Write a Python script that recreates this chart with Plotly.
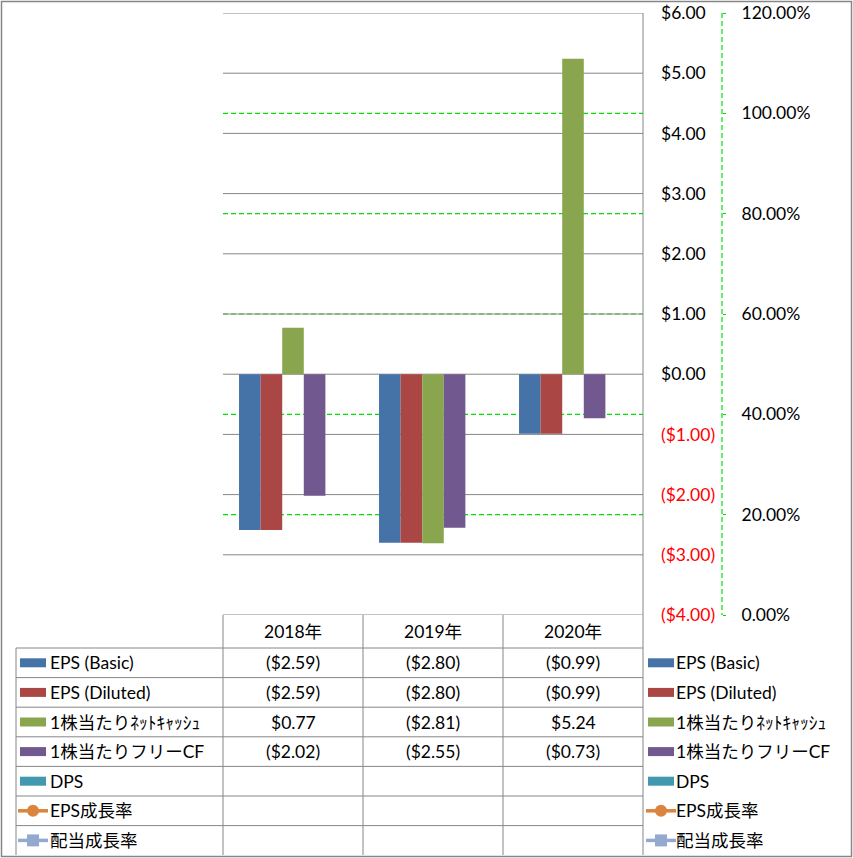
import plotly.graph_objects as go

# ---------------- data ----------------
years = ["2018年", "2019年", "2020年"]
eps_basic = [-2.59, -2.80, -0.99]
eps_diluted = [-2.59, -2.80, -0.99]
net_cash_ps = [0.77, -2.81, 5.24]
fcf_ps = [-2.02, -2.55, -0.73]
dps = [None, None, None]
eps_growth = [None, None, None]
div_growth = [None, None, None]

series_names = ["EPS (Basic)", "EPS (Diluted)", "1株当たりﾈｯﾄｷｬｯｼｭ",
                "1株当たりフリーCF", "DPS", "EPS成長率", "配当成長率"]
y1_ticks = [-4, -3, -2, -1, 0, 1, 2, 3, 4, 5, 6]
y2_ticks = [0.0, 0.2, 0.4, 0.6, 0.8, 1.0, 1.2]

# ---------------- style ----------------
W, H = 853, 858
FONT = "Lato, 'Noto Sans CJK JP', sans-serif"
FS = 17.5
GRID = "#868686"
GREEN = "#00E000"
DASH = "5px,3px"
colors = ["#4572A7", "#AA4643", "#89A54E", "#71588F", "#4198AF", "#DB843D", "#93A9CF"]

def px(x):
    return x / W

def py(y):
    return 1 - y / H

PL, PR, PT, PB = 223, 643, 13, 615   # plot area in px
TL = 16                               # table left edge
HDR_B = 648                           # header bottom
ROW_H = 29.6
TB = 855

def money(v):
    if v is None:
        return ""
    if v < 0:
        return "(${:.2f})".format(-v)
    return "${:.2f}".format(v)

def money_tick(v):
    if v < 0:
        return '<span style="color:#FF0000">(${:.2f})</span>'.format(-v)
    return "${:.2f}".format(v)

fig = go.Figure()
bar_series = [eps_basic, eps_diluted, net_cash_ps, fcf_ps, dps]
for i, vals in enumerate(bar_series):
    fig.add_trace(go.Bar(x=years, y=vals, name=series_names[i],
                         marker=dict(color=colors[i], line=dict(width=0)),
                         showlegend=False))
for i, vals in zip([5, 6], [eps_growth, div_growth]):
    fig.add_trace(go.Scatter(x=years, y=vals, name=series_names[i], yaxis="y2",
                             mode="lines+markers",
                             line=dict(color=colors[i], width=3),
                             showlegend=False))

shapes = []
annotations = []

def hline(x0, x1, y, color=GRID, width=1, dash=None):
    d = dict(type="line", xref="paper", yref="paper", x0=px(x0), x1=px(x1),
             y0=py(y), y1=py(y), line=dict(color=color, width=width))
    if dash:
        d["line"]["dash"] = dash
    shapes.append(d)

def vline(x, y0, y1, color=GRID, width=1, dash=None):
    d = dict(type="line", xref="paper", yref="paper", x0=px(x), x1=px(x),
             y0=py(y0), y1=py(y1), line=dict(color=color, width=width))
    if dash:
        d["line"]["dash"] = dash
    shapes.append(d)

# secondary gridlines (green dashed, inner ones), then primary gridlines (grey) on top
for v in y2_ticks[1:-1]:
    shapes.append(dict(type="line", layer="below", xref="x domain", yref="y2",
                       x0=0, x1=1, y0=v, y1=v,
                       line=dict(color=GREEN, width=1.2, dash=DASH)))
for v in y1_ticks:
    shapes.append(dict(type="line", layer="below", xref="x domain", yref="y",
                       x0=0, x1=1, y0=v, y1=v, line=dict(color=GRID, width=1)))

# outer border
shapes.append(dict(type="rect", xref="paper", yref="paper",
                   x0=px(1.5), x1=px(851.5), y0=py(856.5), y1=py(1.5),
                   line=dict(color=GRID, width=1.5)))

# secondary axis line (dashed green)
vline(722, PT, PB, color=GREEN, width=1.2, dash=DASH)

# table structure
vline(PR, PT, TB)
for xc in [PL, 363, 503]:
    vline(xc, PB, TB)
vline(TL, HDR_B, TB)
for r in range(len(series_names)):
    hline(TL, PR, HDR_B + r * ROW_H)

# header labels
for yr in years:
    annotations.append(dict(x=yr, xref="x", y=py((PB + HDR_B) / 2), yref="paper",
                            text=yr, showarrow=False, xanchor="center", yanchor="middle",
                            font=dict(size=FS, color="#000000", family=FONT)))

# table values
table_vals = [eps_basic, eps_diluted, net_cash_ps, fcf_ps, dps, eps_growth, div_growth]
for r, vals in enumerate(table_vals):
    yc = HDR_B + r * ROW_H + ROW_H / 2
    for yr, v in zip(years, vals):
        t = money(v)
        if t:
            annotations.append(dict(x=yr, xref="x", y=py(yc), yref="paper",
                                    text=t, showarrow=False, xanchor="center",
                                    yanchor="middle",
                                    font=dict(size=FS, color="#000000", family=FONT)))

# legend keys (left in table, right of table)
def legend_entry(xk, xt, yc, i):
    if i < 5:
        shapes.append(dict(type="rect", xref="paper", yref="paper",
                           x0=px(xk), x1=px(xk + 26), y0=py(yc + 4.5), y1=py(yc - 4.5),
                           fillcolor=colors[i], line=dict(width=0)))
    else:
        shapes.append(dict(type="line", xref="paper", yref="paper",
                           x0=px(xk - 2), x1=px(xk + 28), y0=py(yc), y1=py(yc),
                           line=dict(color=colors[i], width=3.5)))
        cx = xk + 13
        shp = "circle" if i == 5 else "rect"
        shapes.append(dict(type=shp, xref="paper", yref="paper",
                           x0=px(cx - 6), x1=px(cx + 6), y0=py(yc + 6), y1=py(yc - 6),
                           fillcolor=colors[i], line=dict(width=0)))
    annotations.append(dict(x=px(xt), xref="paper", y=py(yc), yref="paper",
                            text=series_names[i], showarrow=False, xanchor="left",
                            yanchor="middle",
                            font=dict(size=FS, color="#000000", family=FONT)))

for i in range(len(series_names)):
    yc = HDR_B + i * ROW_H + ROW_H / 2
    legend_entry(20, 48, yc, i)
    legend_entry(648, 674, yc, i)

fig.update_layout(
    template="none",
    width=W, height=H, autosize=False,
    margin=dict(l=0, r=0, t=0, b=0, pad=0),
    paper_bgcolor="white", plot_bgcolor="white",
    font=dict(family=FONT, size=FS, color="#000000"),
    barmode="group", bargap=0.229, bargroupgap=0,
    showlegend=False,
    xaxis=dict(domain=[px(PL), px(PR)], range=[-0.5, 2.5], showticklabels=False,
               showgrid=False, zeroline=False, showline=False, ticks="",
               automargin=False),
    yaxis=dict(domain=[py(PB), py(PT)], range=[-4, 6], side="right",
               tickvals=y1_ticks, ticktext=[money_tick(v) for v in y1_ticks],
               showgrid=False, zeroline=False,
               showline=False, ticks="", ticklabelstandoff=17, automargin=False,
               tickfont=dict(size=FS, family=FONT, color="#000000")),
    yaxis2=dict(overlaying="y", side="right", anchor="free", position=px(722),
                range=[0, 1.2], tickvals=y2_ticks, tickformat=".2%",
                showgrid=False, zeroline=False, showline=False,
                ticks="outside", ticklen=3,
                tickcolor=GREEN, tickwidth=1, ticklabelstandoff=12, automargin=False,
                tickfont=dict(size=FS, family=FONT, color="#000000")),
    shapes=shapes, annotations=annotations,
)

fig.write_html("out.html", config={"displayModeBar": False},
               post_script="document.body.style.margin='0';")
